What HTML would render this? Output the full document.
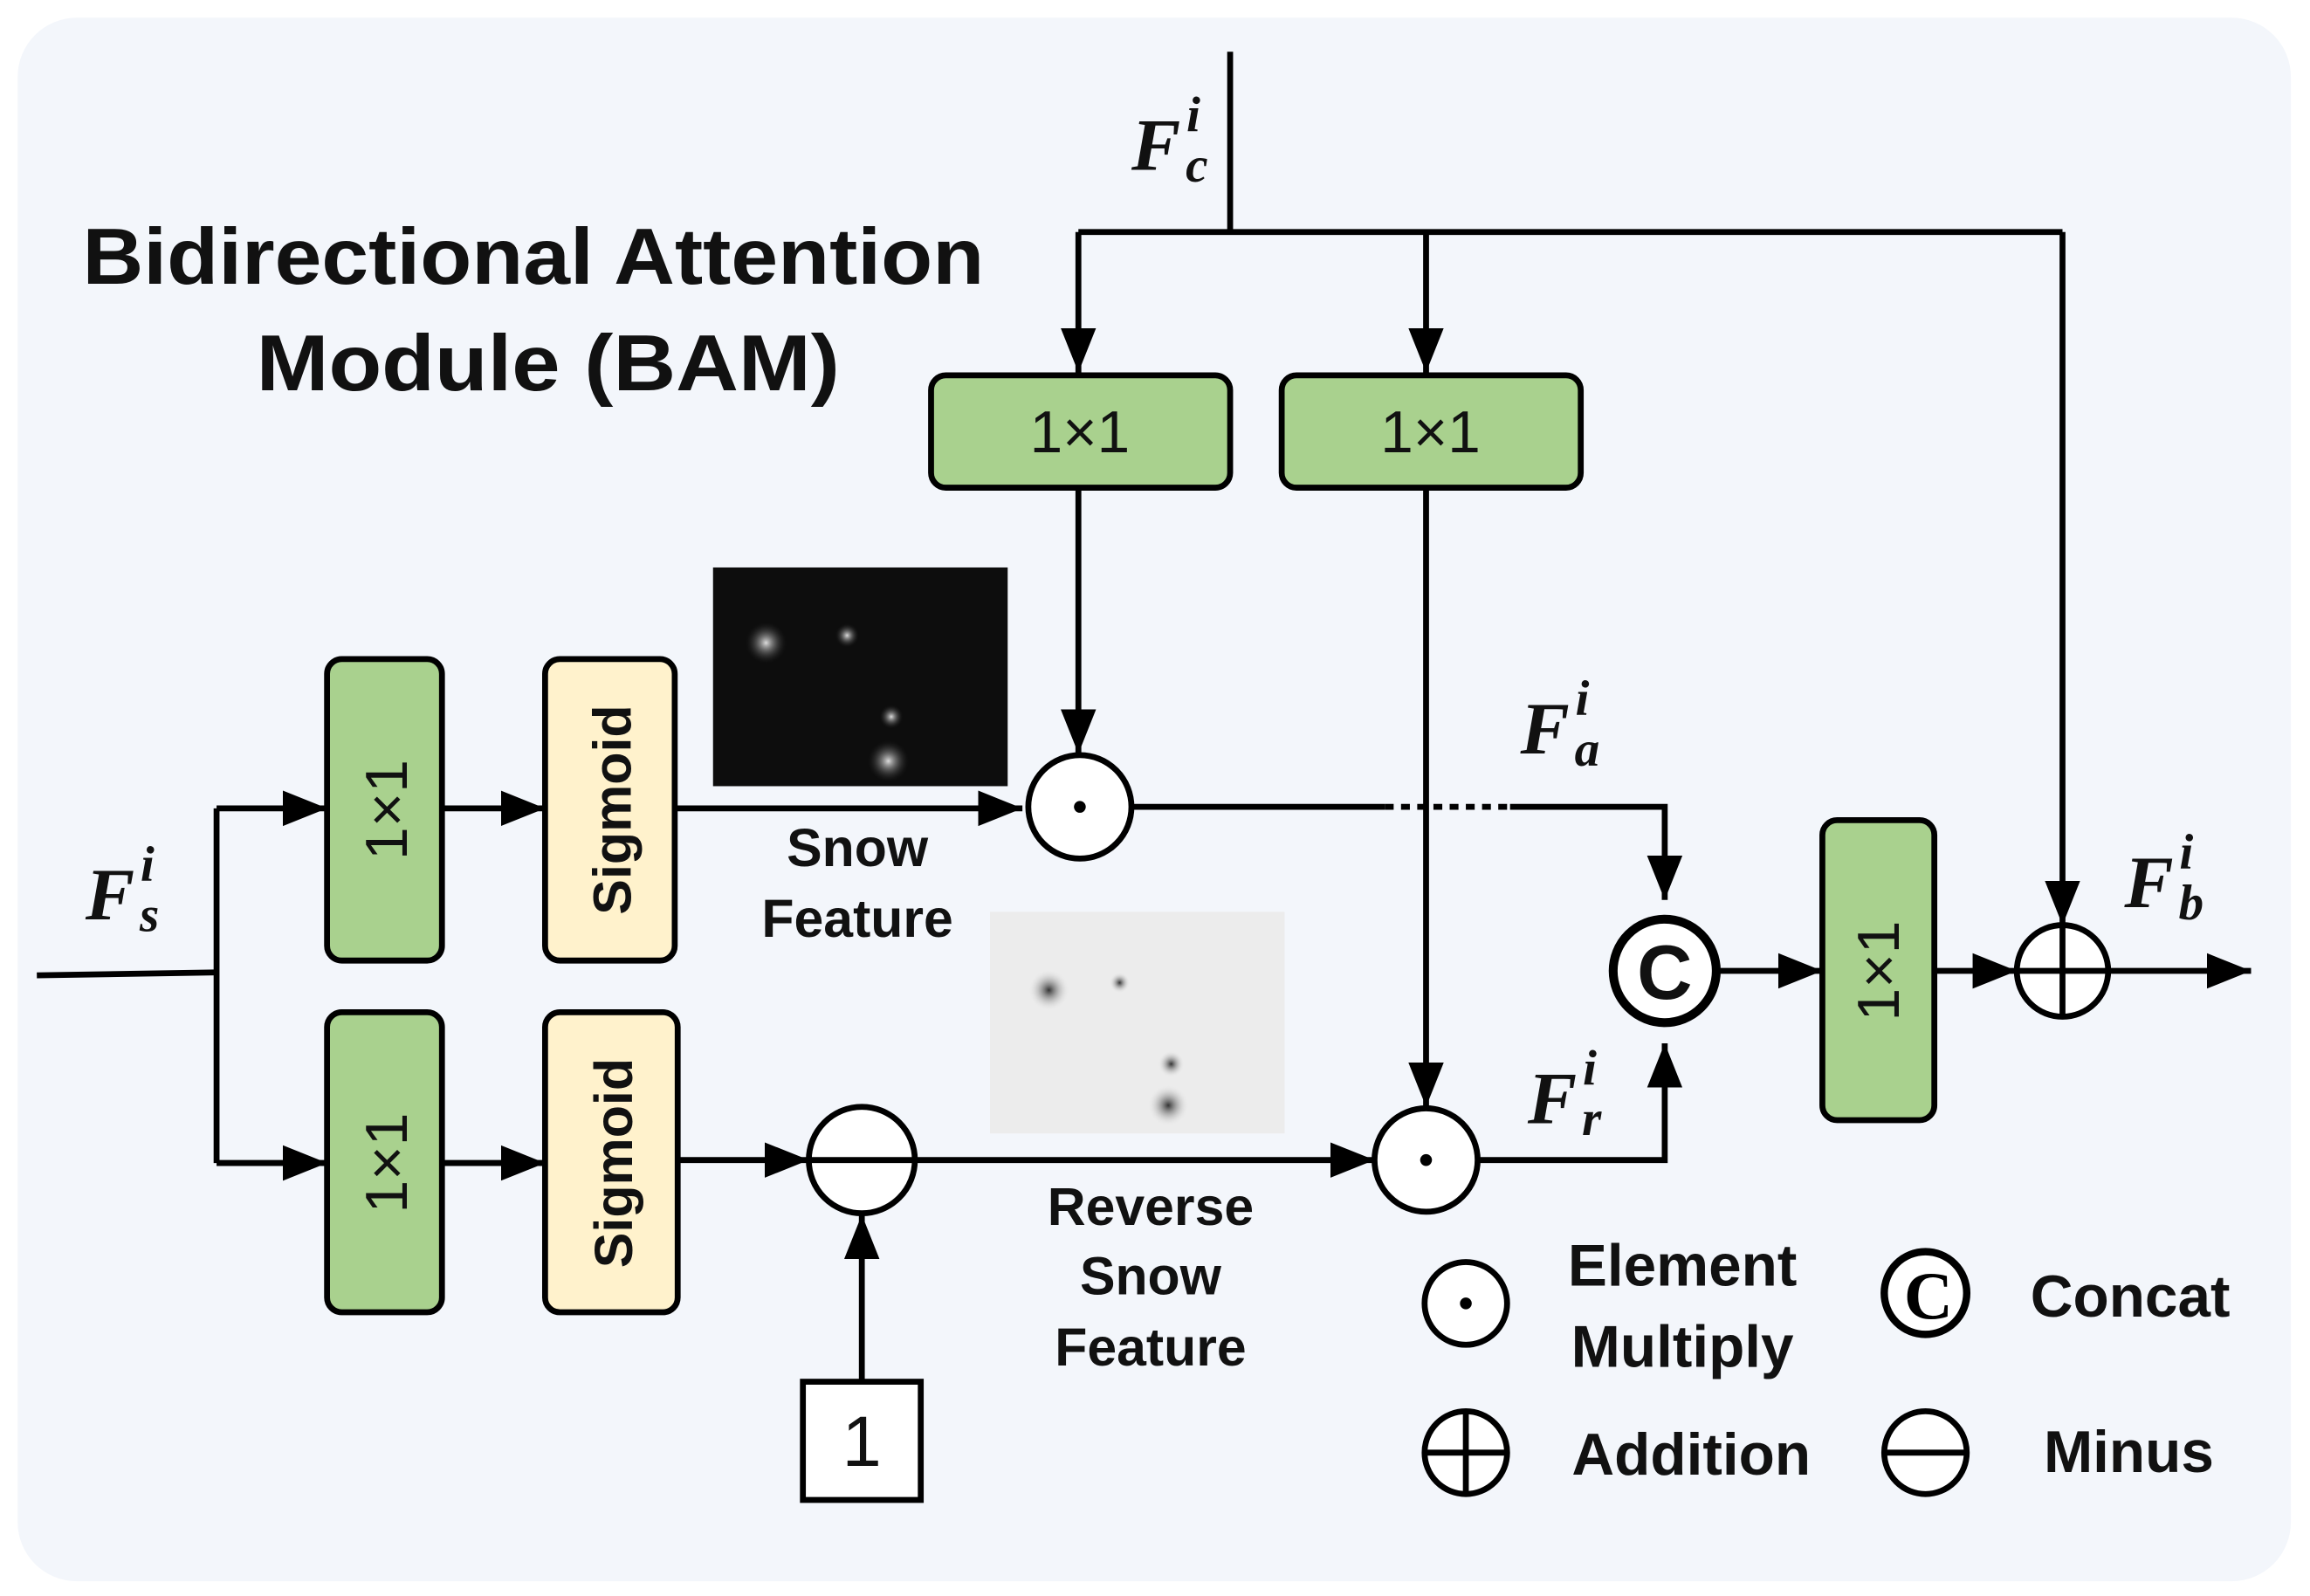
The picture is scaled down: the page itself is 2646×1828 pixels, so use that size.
<!DOCTYPE html>
<html><head><style>
html,body{margin:0;padding:0;background:#fff;}
svg{display:block;}
.t{font-family:"Liberation Sans",sans-serif;fill:#111;font-weight:bold;}
.n{font-family:"Liberation Sans",sans-serif;fill:#111;font-weight:normal;}
.m{font-family:"Liberation Serif",serif;font-weight:bold;font-style:italic;fill:#111;}
</style></head><body>
<svg width="2646" height="1828" viewBox="0 0 1568 1080" preserveAspectRatio="none" xmlns="http://www.w3.org/2000/svg">
<defs>
<marker id="a" viewBox="0 0 10 10" refX="10" refY="5" markerWidth="7.5" markerHeight="7.5" orient="auto" markerUnits="strokeWidth"><path d="M0,1 L10,5 L0,9z" fill="#000"/></marker>
<radialGradient id="b1"><stop offset="0" stop-color="#ddd"/><stop offset="1" stop-color="#222" stop-opacity="0"/></radialGradient>
<radialGradient id="b2"><stop offset="0" stop-color="#333"/><stop offset="1" stop-color="#eee" stop-opacity="0"/></radialGradient>
</defs>
<rect x="12" y="12" width="1543" height="1058" rx="40" fill="#f3f6fb"/>
<text class="t" x="362" y="192" font-size="54" text-anchor="middle" textLength="612" lengthAdjust="spacingAndGlyphs">Bidirectional Attention</text>
<text class="t" x="372" y="264" font-size="54" text-anchor="middle" textLength="396" lengthAdjust="spacingAndGlyphs">Module (BAM)</text>
<g stroke="#000" stroke-width="4" fill="none">
<path d="M835,35 V157"/>
<path d="M732,157 H1400"/>
<path d="M732,157 V252" marker-end="url(#a)"/>
<path d="M968,157 V252" marker-end="url(#a)"/>
<path d="M1400,157 V626" marker-end="url(#a)"/>
<path d="M732,330 V510" marker-end="url(#a)"/>
<path d="M968,330 V749" marker-end="url(#a)"/>
<path d="M25,660 L147,658"/>
<path d="M147,547 V787"/>
<path d="M147,547 H222" marker-end="url(#a)"/>
<path d="M147,787 H222" marker-end="url(#a)"/>
<path d="M300,547 H370" marker-end="url(#a)"/>
<path d="M300,787 H370" marker-end="url(#a)"/>
<path d="M458,547 H694" marker-end="url(#a)"/>
<path d="M460,785 H549" marker-end="url(#a)"/>
<path d="M585,935 V822" marker-end="url(#a)"/>
<path d="M621,785 H933" marker-end="url(#a)"/>
<path d="M768,546 H940"/>
<path d="M940,546 H1025" stroke-dasharray="6,5"/>
<path d="M1025,546 H1130 V609" marker-end="url(#a)"/>
<path d="M1003,785 H1130 V706" marker-end="url(#a)"/>
<path d="M1165,657 H1237" marker-end="url(#a)"/>
<path d="M1313,657 H1369" marker-end="url(#a)"/>
<path d="M1432,657 H1528" marker-end="url(#a)"/>
</g>
<g stroke="#000" stroke-width="4">
<rect x="632" y="254" width="203" height="76" rx="10" fill="#a9d18e"/>
<rect x="870" y="254" width="203" height="76" rx="10" fill="#a9d18e"/>
<rect x="222" y="446" width="78" height="204" rx="10" fill="#a9d18e"/>
<rect x="222" y="685" width="78" height="203" rx="10" fill="#a9d18e"/>
<rect x="1237" y="555" width="76" height="203" rx="10" fill="#a9d18e"/>
<rect x="370" y="446" width="88" height="204" rx="10" fill="#fff2cc"/>
<rect x="370" y="685" width="90" height="203" rx="10" fill="#fff2cc"/>
<rect x="545" y="935" width="80" height="80" fill="#fff"/>
</g>
<text class="n" x="733" y="306" font-size="40" text-anchor="middle">1×1</text>
<text class="n" x="971" y="306" font-size="40" text-anchor="middle">1×1</text>
<text class="n" font-size="40" text-anchor="middle" transform="translate(276,548) rotate(-90)">1×1</text>
<text class="n" font-size="40" text-anchor="middle" transform="translate(276,787) rotate(-90)">1×1</text>
<text class="n" font-size="40" text-anchor="middle" transform="translate(1289,657) rotate(-90)">1×1</text>
<text class="n" x="585" y="992" font-size="48" text-anchor="middle">1</text>
<text class="t" font-size="36" text-anchor="middle" transform="translate(428,548) rotate(-90)">Sigmoid</text>
<text class="t" font-size="36" text-anchor="middle" transform="translate(429,787) rotate(-90)">Sigmoid</text>
<!-- images -->
<rect x="484" y="384" width="200" height="148" fill="#0d0d0d"/>
<circle cx="520" cy="435" r="14" fill="url(#b1)"/><circle cx="603" cy="515" r="14" fill="url(#b1)"/><circle cx="575" cy="430" r="8" fill="url(#b1)"/><circle cx="605" cy="485" r="8" fill="url(#b1)"/>
<rect x="672" y="617" width="200" height="150" fill="#ececec"/>
<circle cx="712" cy="670" r="14" fill="url(#b2)"/><circle cx="793" cy="748" r="14" fill="url(#b2)"/><circle cx="795" cy="720" r="9" fill="url(#b2)"/><circle cx="760" cy="665" r="7" fill="url(#b2)"/>
<text class="t" x="582" y="586" font-size="36" text-anchor="middle">Snow</text>
<text class="t" x="582" y="634" font-size="36" text-anchor="middle">Feature</text>
<text class="t" x="781" y="829" font-size="36" text-anchor="middle">Reverse</text>
<text class="t" x="781" y="876" font-size="36" text-anchor="middle">Snow</text>
<text class="t" x="781" y="924" font-size="36" text-anchor="middle">Feature</text>
<!-- circles -->
<g stroke="#000" stroke-width="4" fill="#fff">
<circle cx="733" cy="546" r="35"/>
<circle cx="968" cy="785" r="35"/>
<circle cx="585" cy="785" r="36"/>
<circle cx="1130" cy="657" r="35" stroke-width="6"/>
<circle cx="1400" cy="657" r="31"/>
<circle cx="995" cy="882" r="28"/>
<circle cx="995" cy="983" r="28"/>
<circle cx="1307" cy="983" r="28"/>
<circle cx="1307" cy="875" r="28" stroke-width="5"/>
</g>
<g stroke="#000" stroke-width="4">
<path d="M549,785 H621"/><path d="M1369,657 H1431 M1400,626 V688"/>
<path d="M967,983 H1023 M995,955 V1011"/><path d="M1279,983 H1335"/>
</g>
<circle cx="733" cy="546" r="4" fill="#000"/><circle cx="968" cy="785" r="4" fill="#000"/><circle cx="995" cy="882" r="4" fill="#000"/>
<text class="t" x="1130" y="676" font-size="52" text-anchor="middle">C</text>
<text x="1309" y="892" font-size="46" text-anchor="middle" font-family="Liberation Serif,serif" font-weight="bold" fill="#000">C</text>
<text class="t" x="1142" y="870" font-size="40" text-anchor="middle">Element</text>
<text class="t" x="1142" y="925" font-size="40" text-anchor="middle">Multiply</text>
<text class="t" x="1148" y="998" font-size="40" text-anchor="middle">Addition</text>
<text class="t" x="1446" y="891" font-size="40" text-anchor="middle">Concat</text>
<text class="t" x="1445" y="996" font-size="40" text-anchor="middle">Minus</text>
<!-- math labels -->
<text class="m" x="768" y="115" font-size="50">F<tspan font-size="34" dx="4" dy="-26">i</tspan><tspan font-size="34" dx="-10" dy="34">c</tspan></text>
<text class="m" x="58" y="622" font-size="50">F<tspan font-size="34" dx="4" dy="-26">i</tspan><tspan font-size="34" dx="-10" dy="34">s</tspan></text>
<text class="m" x="1032" y="510" font-size="50">F<tspan font-size="34" dx="4" dy="-26">i</tspan><tspan font-size="34" dx="-10" dy="34">a</tspan></text>
<text class="m" x="1037" y="760" font-size="50">F<tspan font-size="34" dx="4" dy="-26">i</tspan><tspan font-size="34" dx="-10" dy="34">r</tspan></text>
<text class="m" x="1442" y="614" font-size="50">F<tspan font-size="34" dx="4" dy="-26">i</tspan><tspan font-size="34" dx="-10" dy="34">b</tspan></text>
</svg>
</body></html>
